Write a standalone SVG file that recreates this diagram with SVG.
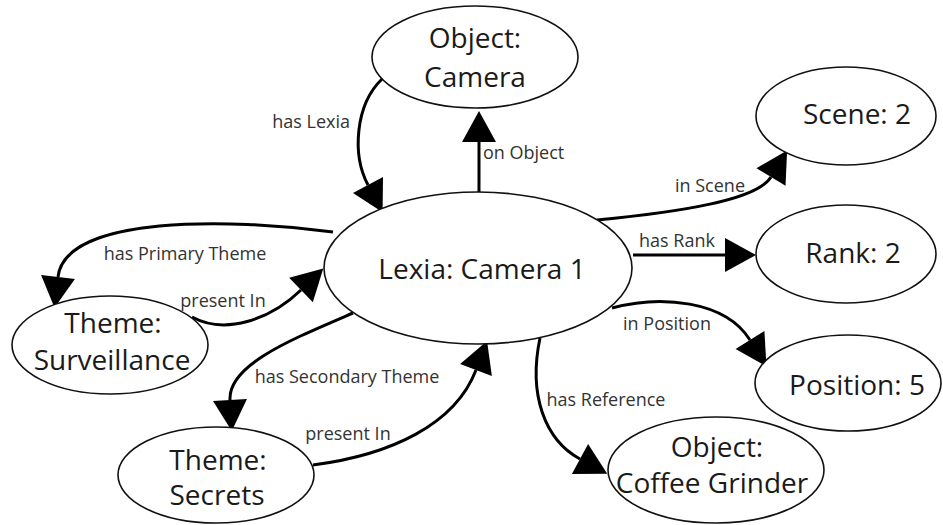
<svg xmlns="http://www.w3.org/2000/svg" width="943" height="525" viewBox="0 0 943 525">
<style>
.node ellipse{fill:#fff;stroke:#111;stroke-width:1.6}
.node text{font-family:"Open Sans","Liberation Sans",sans-serif;font-size:28px;fill:#1a1a1a;text-anchor:middle}
.edge path{fill:none;stroke:#000;stroke-width:3;marker-end:url(#arr)}
.lbl{font-family:"Open Sans","Liberation Sans",sans-serif;font-size:18px;fill:#333;text-anchor:middle}
</style>
<defs>
<marker id="arr" markerUnits="userSpaceOnUse" markerWidth="32" markerHeight="36" refX="0" refY="17" orient="auto" overflow="visible">
<path d="M0,0 L31,17 L0,34 z" fill="#000"/>
</marker>
</defs>
<rect width="943" height="525" fill="#fff"/>
<g id="connectors" class="edge">
<path d="M382,79 C355,105 352,155 368,185"/>
<path d="M479,193 L479,142"/>
<path d="M597,220 C680,212 757,200 771,177"/>
<path d="M633,255 L725,255"/>
<path d="M612,308 C660,295 725,300 750,340"/>
<path d="M540,338 C528,395 545,440 580,459"/>
<path d="M333,232 C230,218 65,215 58,277"/>
<path d="M192,317 C225,335 270,320 301,290"/>
<path d="M353,313 C290,340 228,365 230,400"/>
<path d="M313,465 C390,455 455,425 476,370"/>
</g>
<g id="edge-labels">
<text class="lbl" x="350" y="128" style="text-anchor:end">has Lexia</text>
<text class="lbl" x="483" y="159" style="text-anchor:start">on Object</text>
<text class="lbl" x="710" y="192">in Scene</text>
<text class="lbl" x="677" y="247">has Rank</text>
<text class="lbl" x="667" y="330">in Position</text>
<text class="lbl" x="606" y="406">has Reference</text>
<text class="lbl" x="185" y="260">has Primary Theme</text>
<text class="lbl" x="223" y="307">present In</text>
<text class="lbl" x="347" y="383">has Secondary Theme</text>
<text class="lbl" x="348" y="440">present In</text>
</g>
<g id="node-object-camera" class="node">
<ellipse cx="475" cy="57" rx="103" ry="51"/>
<text x="475" y="48">Object:</text>
<text x="475" y="87">Camera</text>
</g>
<g id="node-lexia" class="node">
<ellipse cx="478" cy="268" rx="154" ry="76"/>
<text x="482" y="279">Lexia: Camera 1</text>
</g>
<g id="node-scene" class="node">
<ellipse cx="846" cy="116" rx="90" ry="49"/>
<text x="857" y="124">Scene: 2</text>
</g>
<g id="node-rank" class="node">
<ellipse cx="846" cy="254" rx="90" ry="49"/>
<text x="853" y="263">Rank: 2</text>
</g>
<g id="node-position" class="node">
<ellipse cx="848" cy="383" rx="93" ry="48"/>
<text x="857" y="395">Position: 5</text>
</g>
<g id="node-coffee-grinder" class="node">
<ellipse cx="716" cy="470" rx="108" ry="53"/>
<text x="717" y="457">Object:</text>
<text x="712" y="493">Coffee Grinder</text>
</g>
<g id="node-surveillance" class="node">
<ellipse cx="110" cy="345" rx="98" ry="49"/>
<text x="113" y="333">Theme:</text>
<text x="112" y="370">Surveillance</text>
</g>
<g id="node-secrets" class="node">
<ellipse cx="216" cy="475" rx="98" ry="48"/>
<text x="218" y="470">Theme:</text>
<text x="217" y="505">Secrets</text>
</g>
</svg>
